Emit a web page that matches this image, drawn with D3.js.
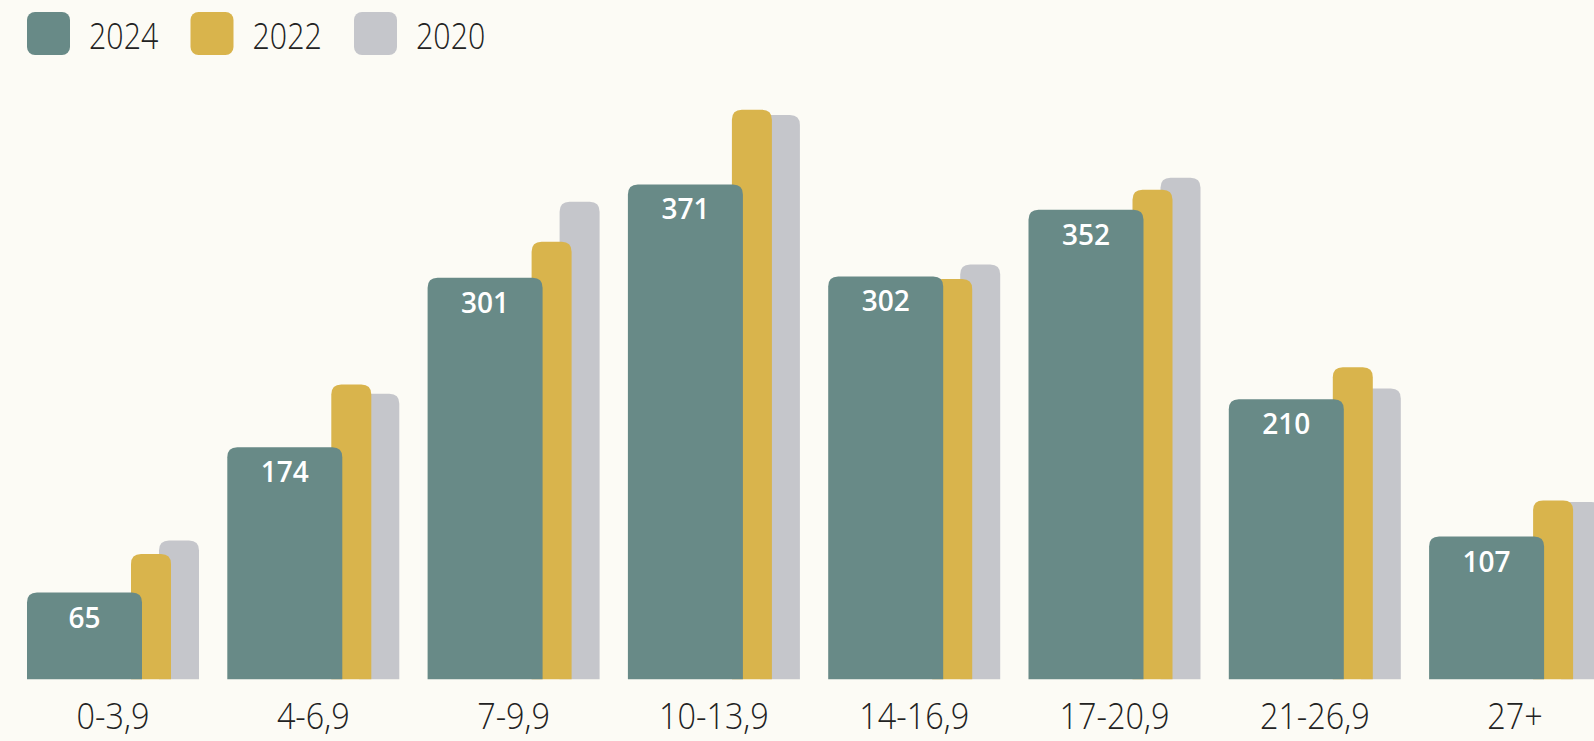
<!DOCTYPE html>
<html>
<head>
<meta charset="utf-8">
<script src="https://cdn.jsdelivr.net/npm/d3@7"></script>
<style>
  html, body { margin: 0; padding: 0; background: #fcfbf5; overflow: hidden; }
  svg { display: block; }
</style>
</head>
<body>
<svg id="chart" width="1594" height="741"></svg>
<script>
const categories = ["0-3,9", "4-6,9", "7-9,9", "10-13,9", "14-16,9", "17-20,9", "21-26,9", "27+"];
const years = ["2024", "2022", "2020"];
const values2024 = [65, 174, 301, 371, 302, 352, 210, 107];
const values2022 = [94, 221, 328, 427, 300, 367, 234, 134];
const values2020 = [104, 214, 358, 423, 311, 376, 218, 133];
const colors = ["#688a87", "#d9b44c", "#c5c6cb"];

const W = 1594, H = 741;
const svg = d3.select("#chart");
svg.append("rect").attr("width", W).attr("height", H).attr("fill", "#fcfbf5");

const baseY = 679.3;
const y = d3.scaleLinear().domain([0, 500]).range([baseY, baseY - 667]);
const x = d3.scaleBand().domain(categories).range([27, 27 + 8 * 200.3]).paddingInner(0).paddingOuter(0);
const bw = x.bandwidth();

// offset and width of each series within a group (fractions of the band)
const seriesLayout = [
  { off: 0, w: 115 / 200.3 },
  { off: 104 / 200.3, w: 40 / 200.3 },
  { off: 132 / 200.3, w: 40 / 200.3 }
];
const seriesValues = [values2024, values2022, values2020];

function topRounded(x0, y0, w, h, r) {
  r = Math.min(r, w / 2, h);
  return `M${x0},${y0 + h}V${y0 + r}Q${x0},${y0} ${x0 + r},${y0}H${x0 + w - r}Q${x0 + w},${y0} ${x0 + w},${y0 + r}V${y0 + h}Z`;
}

const g = svg.append("g");
// draw back to front: 2020, 2022, 2024
[2, 1, 0].forEach(si => {
  const lay = seriesLayout[si];
  g.selectAll(null)
    .data(categories.map((c, i) => ({ c, v: seriesValues[si][i] })))
    .enter().append("path")
    .attr("fill", colors[si])
    .attr("d", d => {
      const x0 = x(d.c) + lay.off * bw;
      const w = lay.w * bw;
      const yt = y(d.v);
      return topRounded(x0, yt, w, baseY - yt, 10);
    });
});

// value labels on 2024 bars
g.selectAll(null)
  .data(categories.map((c, i) => ({ c, v: values2024[i] })))
  .enter().append("text")
  .attr("x", d => x(d.c) + seriesLayout[0].w * bw / 2)
  .attr("y", d => y(d.v) + 35)
  .attr("text-anchor", "middle")
  .attr("fill", "#ffffff")
  .attr("font-family", "'Open Sans', sans-serif")
  .attr("font-weight", 600)
  .attr("font-size", 28)
  .text(d => d.v);

// category axis labels
const axisG = svg.append("g");
axisG.selectAll(null)
  .data(categories)
  .enter().append("text")
  .attr("transform", d => `translate(${x(d) + 86},729) scale(0.9,1)`)
  .attr("text-anchor", "middle")
  .attr("fill", "#222222")
  .attr("font-family", "'Open Sans', sans-serif")
  .attr("font-weight", 300)
  .attr("font-size", 36)
  .text(d => d);

// legend
const legend = svg.append("g");
const lx = d3.scalePoint().domain(years).range([27, 27 + 2 * 163.5]);
const items = legend.selectAll(null).data(years).enter().append("g")
  .attr("transform", d => `translate(${lx(d)},12)`);
items.append("rect")
  .attr("width", 43).attr("height", 43).attr("rx", 8).attr("ry", 8)
  .attr("fill", (d, i) => colors[i]);
items.append("text")
  .attr("transform", "translate(62,37) scale(0.82,1)")
  .attr("fill", "#222222")
  .attr("font-family", "'Open Sans', sans-serif")
  .attr("font-weight", 300)
  .attr("font-size", 37)
  .text(d => d);
</script>
</body>
</html>
